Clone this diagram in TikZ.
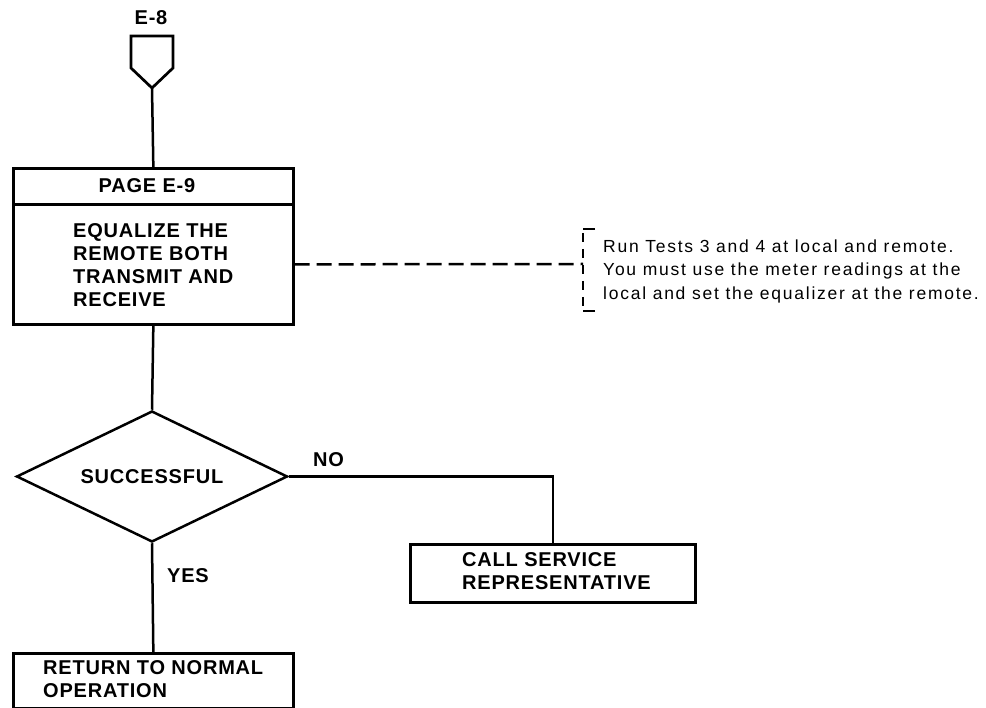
\documentclass[tikz,border=0pt]{standalone}
\usepackage{fontspec}
\setmainfont{Liberation Sans}
\newfontfamily\flowfont[LetterSpace=4]{Liberation Sans}
\newfontfamily\notefont[LetterSpace=10]{Liberation Sans}
\usetikzlibrary{shapes.geometric,positioning}

\begin{document}
\begin{tikzpicture}[x=1pt,y=-1pt,
    flowline/.style={line width=2.5pt},
    flowbox/.style={draw, line width=2.7pt, rectangle, inner sep=0pt, anchor=north west},
    flowtext/.style={font=\flowfont\bfseries\fontsize{20}{23}\selectfont, inner sep=0pt, align=left},
    notetext/.style={font=\notefont\fontsize{17.5}{23.5}\selectfont, inner sep=0pt, align=left}]

    \useasboundingbox (0,0) rectangle (986,708);

    % off-page connector
    \draw[line width=2.7pt, line join=miter]
        (152,88) -- (131,68) -- (131,36) -- (173,36) -- (173,68) -- cycle;
    \coordinate (e8tip) at (152,88);
    \node[flowtext, anchor=base] (e8) at (151,25) {E-8};

    % process box
    \node[flowbox, minimum width=280, minimum height=36] (pagehead) at (12,167) {};
    \node[flowtext, anchor=base] (pagetxt) at (147,193) {PAGE E-9};
    \node[flowbox, minimum width=280, minimum height=120] (equalize) at (12,203) {};
    \node[flowtext, anchor=north west] (eqtxt)
        at (73,223.7) {EQUALIZE THE\\REMOTE BOTH\\TRANSMIT AND\\RECEIVE};

    % note
    \coordinate (brkmid) at (583,264);
    \coordinate (brktop) at (583,229);
    \coordinate (brkbot) at (583,311);
    \draw[flowline, dash pattern=on 15pt off 7pt] (equalize.east) -- (brkmid);
    \draw[flowline] ([xshift=12pt]brktop) -- (brktop);
    \draw[flowline] ([xshift=12pt]brkbot) -- (brkbot);
    \draw[flowline, dash pattern=on 9pt off 7pt, dash phase=-4pt] (brktop) -- (brkbot);
    \node[notetext, anchor=north west] (note) at (603,239.2)
        {Run Tests 3 and 4 at local and remote.\\
         You must use the meter readings at the\\
         local and set the equalizer at the remote.};

    % decision
    \node[draw, diamond, aspect=2, line width=2.5pt, line join=miter,
        minimum width=271, minimum height=131, flowtext] (decide) at (152,476.5) {SUCCESSFUL};
    \node[flowtext, anchor=base west] (nolbl) at (313,467) {NO};
    \node[flowtext, anchor=base west] (yeslbl) at (167,582) {YES};

    \node[flowbox, minimum width=285, minimum height=58] (callbox) at (409,543) {};
    \node[flowtext, anchor=north west] (calltxt)
        at (462,552.7) {CALL SERVICE\\REPRESENTATIVE};

    \node[flowbox, minimum width=280, minimum height=55] (retbox) at (12,652) {};
    \node[flowtext, anchor=north west] (rettxt)
        at (43,660.7) {RETURN TO NORMAL\\OPERATION};

    % connectors
    \draw[flowline] (e8tip) -- (pagehead.north);
    \draw[flowline] (equalize.south) -- (decide.north);
    \draw[flowline] (decide.east) -| (callbox.north);
    \draw[flowline] (decide.south) -- (retbox.north);

\end{tikzpicture}
\end{document}
